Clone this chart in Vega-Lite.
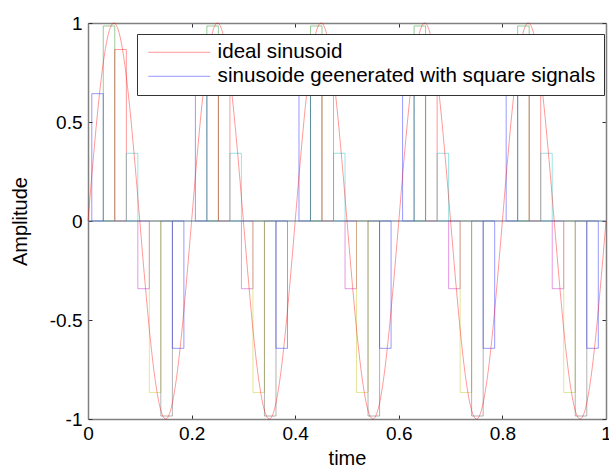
{
  "$schema": "https://vega.github.io/schema/vega-lite/v6.json",
  "width": 518,
  "height": 396,
  "autosize": "none",
  "padding": {"left": 88, "top": 23, "right": 3, "bottom": 49},
  "background": "white",
  "config": {
    "view": {"stroke": null},
    "font": "Liberation Sans",
    "axis": {
      "grid": false,
      "domainColor": "#808080",
      "domainWidth": 1.5,
      "tickColor": "#333333",
      "tickSize": -4,
      "tickWidth": 1,
      "labelFont": "Liberation Sans",
      "labelFontSize": 19,
      "labelColor": "#000000",
      "titleFont": "Liberation Sans",
      "titleFontSize": 20,
      "titleFontWeight": "normal",
      "titleColor": "#000000"
    }
  },
  "datasets": {
    "sine": [
      {"t": 0.00, "y": 0, "s": "ideal sinusoid"},
      {"t": 0.01, "y": 0.309, "s": "ideal sinusoid"},
      {"t": 0.02, "y": 0.588, "s": "ideal sinusoid"},
      {"t": 0.03, "y": 0.809, "s": "ideal sinusoid"},
      {"t": 0.04, "y": 0.951, "s": "ideal sinusoid"},
      {"t": 0.05, "y": 1, "s": "ideal sinusoid"},
      {"t": 0.06, "y": 0.951, "s": "ideal sinusoid"},
      {"t": 0.07, "y": 0.809, "s": "ideal sinusoid"},
      {"t": 0.08, "y": 0.588, "s": "ideal sinusoid"},
      {"t": 0.09, "y": 0.309, "s": "ideal sinusoid"},
      {"t": 0.10, "y": 0, "s": "ideal sinusoid"},
      {"t": 0.11, "y": -0.309, "s": "ideal sinusoid"},
      {"t": 0.12, "y": -0.588, "s": "ideal sinusoid"},
      {"t": 0.13, "y": -0.809, "s": "ideal sinusoid"},
      {"t": 0.14, "y": -0.951, "s": "ideal sinusoid"},
      {"t": 0.15, "y": -1, "s": "ideal sinusoid"},
      {"t": 0.16, "y": -0.951, "s": "ideal sinusoid"},
      {"t": 0.17, "y": -0.809, "s": "ideal sinusoid"},
      {"t": 0.18, "y": -0.588, "s": "ideal sinusoid"},
      {"t": 0.19, "y": -0.309, "s": "ideal sinusoid"},
      {"t": 0.20, "y": 0, "s": "ideal sinusoid"},
      {"t": 0.21, "y": 0.309, "s": "ideal sinusoid"},
      {"t": 0.22, "y": 0.588, "s": "ideal sinusoid"},
      {"t": 0.23, "y": 0.809, "s": "ideal sinusoid"},
      {"t": 0.24, "y": 0.951, "s": "ideal sinusoid"},
      {"t": 0.25, "y": 1, "s": "ideal sinusoid"},
      {"t": 0.26, "y": 0.951, "s": "ideal sinusoid"},
      {"t": 0.27, "y": 0.809, "s": "ideal sinusoid"},
      {"t": 0.28, "y": 0.588, "s": "ideal sinusoid"},
      {"t": 0.29, "y": 0.309, "s": "ideal sinusoid"},
      {"t": 0.30, "y": 0, "s": "ideal sinusoid"},
      {"t": 0.31, "y": -0.309, "s": "ideal sinusoid"},
      {"t": 0.32, "y": -0.588, "s": "ideal sinusoid"},
      {"t": 0.33, "y": -0.809, "s": "ideal sinusoid"},
      {"t": 0.34, "y": -0.951, "s": "ideal sinusoid"},
      {"t": 0.35, "y": -1, "s": "ideal sinusoid"},
      {"t": 0.36, "y": -0.951, "s": "ideal sinusoid"},
      {"t": 0.37, "y": -0.809, "s": "ideal sinusoid"},
      {"t": 0.38, "y": -0.588, "s": "ideal sinusoid"},
      {"t": 0.39, "y": -0.309, "s": "ideal sinusoid"},
      {"t": 0.40, "y": 0, "s": "ideal sinusoid"},
      {"t": 0.41, "y": 0.309, "s": "ideal sinusoid"},
      {"t": 0.42, "y": 0.588, "s": "ideal sinusoid"},
      {"t": 0.43, "y": 0.809, "s": "ideal sinusoid"},
      {"t": 0.44, "y": 0.951, "s": "ideal sinusoid"},
      {"t": 0.45, "y": 1, "s": "ideal sinusoid"},
      {"t": 0.46, "y": 0.951, "s": "ideal sinusoid"},
      {"t": 0.47, "y": 0.809, "s": "ideal sinusoid"},
      {"t": 0.48, "y": 0.588, "s": "ideal sinusoid"},
      {"t": 0.49, "y": 0.309, "s": "ideal sinusoid"},
      {"t": 0.50, "y": 0, "s": "ideal sinusoid"},
      {"t": 0.51, "y": -0.309, "s": "ideal sinusoid"},
      {"t": 0.52, "y": -0.588, "s": "ideal sinusoid"},
      {"t": 0.53, "y": -0.809, "s": "ideal sinusoid"},
      {"t": 0.54, "y": -0.951, "s": "ideal sinusoid"},
      {"t": 0.55, "y": -1, "s": "ideal sinusoid"},
      {"t": 0.56, "y": -0.951, "s": "ideal sinusoid"},
      {"t": 0.57, "y": -0.809, "s": "ideal sinusoid"},
      {"t": 0.58, "y": -0.588, "s": "ideal sinusoid"},
      {"t": 0.59, "y": -0.309, "s": "ideal sinusoid"},
      {"t": 0.60, "y": 0, "s": "ideal sinusoid"},
      {"t": 0.61, "y": 0.309, "s": "ideal sinusoid"},
      {"t": 0.62, "y": 0.588, "s": "ideal sinusoid"},
      {"t": 0.63, "y": 0.809, "s": "ideal sinusoid"},
      {"t": 0.64, "y": 0.951, "s": "ideal sinusoid"},
      {"t": 0.65, "y": 1, "s": "ideal sinusoid"},
      {"t": 0.66, "y": 0.951, "s": "ideal sinusoid"},
      {"t": 0.67, "y": 0.809, "s": "ideal sinusoid"},
      {"t": 0.68, "y": 0.588, "s": "ideal sinusoid"},
      {"t": 0.69, "y": 0.309, "s": "ideal sinusoid"},
      {"t": 0.70, "y": 0, "s": "ideal sinusoid"},
      {"t": 0.71, "y": -0.309, "s": "ideal sinusoid"},
      {"t": 0.72, "y": -0.588, "s": "ideal sinusoid"},
      {"t": 0.73, "y": -0.809, "s": "ideal sinusoid"},
      {"t": 0.74, "y": -0.951, "s": "ideal sinusoid"},
      {"t": 0.75, "y": -1, "s": "ideal sinusoid"},
      {"t": 0.76, "y": -0.951, "s": "ideal sinusoid"},
      {"t": 0.77, "y": -0.809, "s": "ideal sinusoid"},
      {"t": 0.78, "y": -0.588, "s": "ideal sinusoid"},
      {"t": 0.79, "y": -0.309, "s": "ideal sinusoid"},
      {"t": 0.80, "y": 0, "s": "ideal sinusoid"},
      {"t": 0.81, "y": 0.309, "s": "ideal sinusoid"},
      {"t": 0.82, "y": 0.588, "s": "ideal sinusoid"},
      {"t": 0.83, "y": 0.809, "s": "ideal sinusoid"},
      {"t": 0.84, "y": 0.951, "s": "ideal sinusoid"},
      {"t": 0.85, "y": 1, "s": "ideal sinusoid"},
      {"t": 0.86, "y": 0.951, "s": "ideal sinusoid"},
      {"t": 0.87, "y": 0.809, "s": "ideal sinusoid"},
      {"t": 0.88, "y": 0.588, "s": "ideal sinusoid"},
      {"t": 0.89, "y": 0.309, "s": "ideal sinusoid"},
      {"t": 0.90, "y": 0, "s": "ideal sinusoid"},
      {"t": 0.91, "y": -0.309, "s": "ideal sinusoid"},
      {"t": 0.92, "y": -0.588, "s": "ideal sinusoid"},
      {"t": 0.93, "y": -0.809, "s": "ideal sinusoid"},
      {"t": 0.94, "y": -0.951, "s": "ideal sinusoid"},
      {"t": 0.95, "y": -1, "s": "ideal sinusoid"},
      {"t": 0.96, "y": -0.951, "s": "ideal sinusoid"},
      {"t": 0.97, "y": -0.809, "s": "ideal sinusoid"},
      {"t": 0.98, "y": -0.588, "s": "ideal sinusoid"},
      {"t": 0.99, "y": -0.309, "s": "ideal sinusoid"},
      {"t": 1.00, "y": 0, "s": "ideal sinusoid"}
    ],
    "pulses": [
      {"t0": 0.0073, "t1": 0.0295, "v": 0.643, "c": "s1"},
      {"t0": 0.0295, "t1": 0.0517, "v": 0.985, "c": "s2"},
      {"t0": 0.0517, "t1": 0.0740, "v": 0.866, "c": "s3"},
      {"t0": 0.0740, "t1": 0.0962, "v": 0.342, "c": "s4"},
      {"t0": 0.0962, "t1": 0.1184, "v": -0.342, "c": "s5"},
      {"t0": 0.1184, "t1": 0.1406, "v": -0.866, "c": "s6"},
      {"t0": 0.1406, "t1": 0.1629, "v": -0.985, "c": "s7"},
      {"t0": 0.1629, "t1": 0.1851, "v": -0.643, "c": "s8"},
      {"t0": 0.2073, "t1": 0.2295, "v": 0.643, "c": "s1"},
      {"t0": 0.2295, "t1": 0.2517, "v": 0.985, "c": "s2"},
      {"t0": 0.2517, "t1": 0.2740, "v": 0.866, "c": "s3"},
      {"t0": 0.2740, "t1": 0.2962, "v": 0.342, "c": "s4"},
      {"t0": 0.2962, "t1": 0.3184, "v": -0.342, "c": "s5"},
      {"t0": 0.3184, "t1": 0.3406, "v": -0.866, "c": "s6"},
      {"t0": 0.3406, "t1": 0.3629, "v": -0.985, "c": "s7"},
      {"t0": 0.3629, "t1": 0.3851, "v": -0.643, "c": "s8"},
      {"t0": 0.4073, "t1": 0.4295, "v": 0.643, "c": "s1"},
      {"t0": 0.4295, "t1": 0.4517, "v": 0.985, "c": "s2"},
      {"t0": 0.4517, "t1": 0.4740, "v": 0.866, "c": "s3"},
      {"t0": 0.4740, "t1": 0.4962, "v": 0.342, "c": "s4"},
      {"t0": 0.4962, "t1": 0.5184, "v": -0.342, "c": "s5"},
      {"t0": 0.5184, "t1": 0.5406, "v": -0.866, "c": "s6"},
      {"t0": 0.5406, "t1": 0.5629, "v": -0.985, "c": "s7"},
      {"t0": 0.5629, "t1": 0.5851, "v": -0.643, "c": "s8"},
      {"t0": 0.6073, "t1": 0.6295, "v": 0.643, "c": "s1"},
      {"t0": 0.6295, "t1": 0.6517, "v": 0.985, "c": "s2"},
      {"t0": 0.6517, "t1": 0.6740, "v": 0.866, "c": "s3"},
      {"t0": 0.6740, "t1": 0.6962, "v": 0.342, "c": "s4"},
      {"t0": 0.6962, "t1": 0.7184, "v": -0.342, "c": "s5"},
      {"t0": 0.7184, "t1": 0.7406, "v": -0.866, "c": "s6"},
      {"t0": 0.7406, "t1": 0.7629, "v": -0.985, "c": "s7"},
      {"t0": 0.7629, "t1": 0.7851, "v": -0.643, "c": "s8"},
      {"t0": 0.8073, "t1": 0.8295, "v": 0.643, "c": "s1"},
      {"t0": 0.8295, "t1": 0.8517, "v": 0.985, "c": "s2"},
      {"t0": 0.8517, "t1": 0.8740, "v": 0.866, "c": "s3"},
      {"t0": 0.8740, "t1": 0.8962, "v": 0.342, "c": "s4"},
      {"t0": 0.8962, "t1": 0.9184, "v": -0.342, "c": "s5"},
      {"t0": 0.9184, "t1": 0.9406, "v": -0.866, "c": "s6"},
      {"t0": 0.9406, "t1": 0.9629, "v": -0.985, "c": "s7"},
      {"t0": 0.9629, "t1": 0.9851, "v": -0.643, "c": "s8"}
    ],
    "base": [
      {"t0": 0, "t1": 1, "v": 0}
    ]
  },
  "layer": [
    {
      "data": {"name": "pulses"},
      "mark": {"type": "rect", "filled": false, "strokeWidth": 1, "strokeOpacity": 0.4},
      "encoding": {
        "x": {"field": "t0", "type": "quantitative", "axis": null, "scale": {"domain": [0, 1], "nice": false}},
        "x2": {"field": "t1"},
        "y": {"field": "v", "type": "quantitative", "axis": null, "scale": {"domain": [-1, 1], "nice": false}},
        "y2": {"datum": 0},
        "color": {
          "field": "c",
          "type": "nominal",
          "legend": null,
          "scale": {
            "domain": ["s1", "s2", "s3", "s4", "s5", "s6", "s7", "s8"],
            "range": ["#0000ff", "#008000", "#ff0000", "#00bfbf", "#bf00bf", "#bfbf00", "#404040", "#0000ff"]
          }
        }
      }
    },
    {
      "data": {"name": "base"},
      "mark": {"type": "rule", "color": "#5a7890", "strokeWidth": 1},
      "encoding": {
        "x": {
          "field": "t0", "type": "quantitative",
          "scale": {"domain": [0, 1], "nice": false},
          "axis": {"orient": "top", "labels": false, "title": null, "values": [0, 0.2, 0.4, 0.6, 0.8, 1]}
        },
        "x2": {"field": "t1"},
        "y": {
          "field": "v", "type": "quantitative",
          "scale": {"domain": [-1, 1], "nice": false},
          "axis": {"orient": "right", "labels": false, "title": null, "values": [-1, -0.5, 0, 0.5, 1]}
        }
      }
    },
    {
      "data": {"name": "sine"},
      "mark": {"type": "line", "interpolate": "monotone", "strokeWidth": 1, "strokeOpacity": 0.4},
      "encoding": {
        "x": {
          "field": "t", "type": "quantitative",
          "scale": {"domain": [0, 1], "nice": false},
          "axis": {"orient": "bottom", "title": "time", "values": [0, 0.2, 0.4, 0.6, 0.8, 1], "labelExpr": "'' + datum.value", "labelPadding": 9, "titlePadding": 5, "labelFlush": false}
        },
        "y": {
          "field": "y", "type": "quantitative",
          "scale": {"domain": [-1, 1], "nice": false},
          "axis": {"orient": "left", "title": "Amplitude", "values": [-1, -0.5, 0, 0.5, 1], "labelExpr": "'' + datum.value", "labelPadding": 10, "titlePadding": 19, "labelFlush": false}
        },
        "color": {
          "field": "s",
          "type": "nominal",
          "scale": {
            "domain": ["ideal sinusoid", "sinusoide geenerated with square signals"],
            "range": ["#ff0000", "#0000ff"]
          },
          "legend": {
            "orient": "none",
            "legendX": 49,
            "legendY": 11,
            "title": null,
            "symbolType": "M-4,0H4",
            "symbolSize": 240,
            "symbolStrokeWidth": 1,
            "symbolOpacity": 0.4,
            "labelFont": "Liberation Sans",
            "labelFontSize": 20.6,
            "labelColor": "#000000",
            "labelLimit": 600,
            "padding": 8,
            "rowPadding": 3,
            "fillColor": "white",
            "strokeColor": "#333333",
            "symbolOffset": 24,
            "labelOffset": 28
          }
        }
      }
    }
  ],
  "resolve": {"scale": {"color": "independent"}, "axis": {"x": "independent", "y": "independent"}}
}
